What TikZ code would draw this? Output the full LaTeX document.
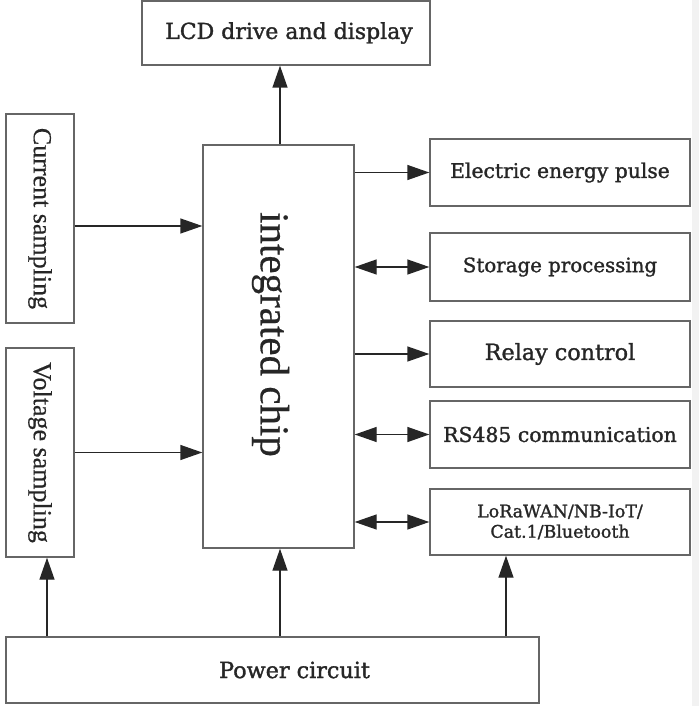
\documentclass[tikz,border=0pt]{standalone}
\usepackage{fontspec}
\usepackage{graphicx}
\setmainfont{DejaVu Serif}[FakeBold=1.4]
\newfontfamily\timesfont{Liberation Serif}[FakeBold=0.5]
\usetikzlibrary{arrows.meta}
\newcommand{\fsz}[1]{\fontsize{#1}{#1}\selectfont}
\tikzset{
  blk/.style={draw=black!60,line width=1.4pt,inner sep=0pt,text=black!85,align=center},
  link/.style={-{Triangle[length=22pt,width=15pt]},black!85,line width=1.4pt},
  both/.style={{Triangle[length=22pt,width=15pt]}-{Triangle[length=22pt,width=15pt]},black!85,line width=1.4pt}
}

\begin{document}
\begin{tikzpicture}[x=1pt,y=-1pt]
  \useasboundingbox (0,0) rectangle (699,706);
  \fill[black!5] (692,0) rectangle (699,706);
  \node[blk,minimum width=288pt,minimum height=64pt] (lcd) at (286,33) {\hspace*{6pt}\fsz{22}LCD drive and display};
  \node[blk,minimum width=68pt,minimum height=209pt,font=\timesfont\fsz{26}] (cur) at (40,218.5) {\rotatebox{-90}{Current sampling}};
  \node[blk,minimum width=68pt,minimum height=209pt,font=\timesfont\fsz{26}] (vol) at (40,452.5) {\rotatebox{-90}{Voltage sampling}};
  \node[blk,minimum width=151pt,minimum height=403pt] (chip) at (278.5,346.5) {};
  \node[font=\timesfont\fsz{41},text=black!85] (chiptxt) at ([xshift=-8pt,yshift=12pt]chip.center) {\rotatebox{-90}{integrated chip}};
  \node[blk,minimum width=260pt,minimum height=67pt] (pulse) at (560,172.5) {\fsz{20.3}Electric energy pulse};
  \node[blk,minimum width=260pt,minimum height=68pt] (store) at (560,267) {\fsz{19.8}Storage processing};
  \node[blk,minimum width=260pt,minimum height=66pt] (relay) at (560,354) {\fsz{22.3}Relay control};
  \node[blk,minimum width=260pt,minimum height=67pt] (rs) at (560,434.5) {\fsz{20.4}RS485 communication};
  \node[blk,minimum width=260pt,minimum height=66pt,font=\fsz{17.4},text width=250pt] (lora) at (560,522) {LoRaWAN/NB-IoT/\\[3pt]Cat.1/Bluetooth};
  \node[blk,minimum width=533pt,minimum height=66pt] (power) at (272.5,670) {\hspace*{44pt}\fsz{22.3}Power circuit};
  \draw[link] (chip.north -| 280,0) -- (lcd.south -| 280,0);
  \draw[link] (cur.east |- 0,226) -- (chip.west |- 0,226);
  \draw[link] (vol.east) -- (vol.east -| chip.west);
  \foreach \b in {pulse,relay}
    \draw[link] (chip.east |- \b.west) -- (\b.west);
  \foreach \b in {store,rs,lora}
    \draw[both] (chip.east |- \b.west) -- (\b.west);
  \draw[link] (power.north -| 47,0) -- (vol.south -| 47,0);
  \draw[link] (power.north -| 280,0) -- (chip.south -| 280,0);
  \draw[link] (power.north -| 506,0) -- (lora.south -| 506,0);
\end{tikzpicture}
\end{document}
